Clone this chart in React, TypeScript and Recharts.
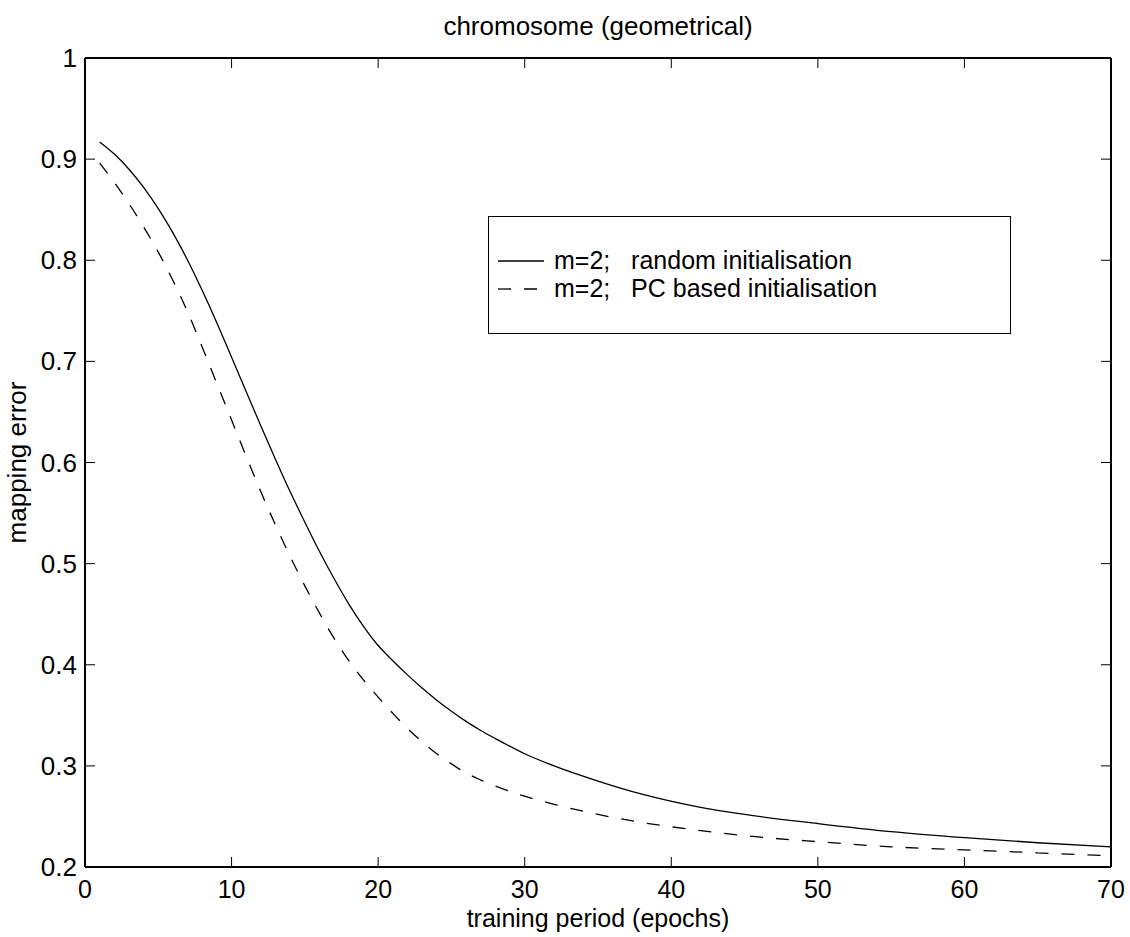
import { Legend, Line, LineChart, XAxis, YAxis } from "recharts";

// values
const epochs = [
  1, 2, 3, 4, 5, 6, 7, 8, 9, 10, 11, 12, 13, 14, 15, 16, 17, 18, 19, 20, 21,
  22, 23, 24, 25, 26, 27, 28, 30, 32, 35, 38, 42, 45, 50, 55, 60, 65, 70,
];
const randomInit = [
  0.917, 0.905, 0.89, 0.872, 0.851, 0.827, 0.8, 0.77, 0.738, 0.704, 0.67,
  0.636, 0.603, 0.571, 0.541, 0.512, 0.485, 0.46, 0.438, 0.419, 0.404, 0.39,
  0.377, 0.365, 0.354, 0.344, 0.335, 0.327, 0.312, 0.3, 0.285, 0.272, 0.259,
  0.252, 0.243, 0.235, 0.229, 0.224, 0.22,
];
const pcInit = [
  0.896, 0.877, 0.856, 0.833, 0.808, 0.78, 0.749, 0.714, 0.678, 0.642, 0.606,
  0.571, 0.538, 0.507, 0.478, 0.451, 0.426, 0.404, 0.385, 0.368, 0.352, 0.337,
  0.324, 0.312, 0.302, 0.293, 0.286, 0.28, 0.27, 0.262, 0.252, 0.244, 0.236,
  0.231, 0.225, 0.22, 0.217, 0.214, 0.211,
];
const xTicks = [0, 10, 20, 30, 40, 50, 60, 70];
const yTicks = [0.2, 0.3, 0.4, 0.5, 0.6, 0.7, 0.8, 0.9, 1];
const seriesNames = ["m=2;   random initialisation", "m=2;   PC based initialisation"];

const FONT = '"Liberation Sans", Arial, Helvetica, sans-serif';
const DASH = "13 13";
const TICK_LEN = 10;

const data = epochs.map((e, i) => ({
  epoch: e,
  random: randomInit[i],
  pc: pcInit[i],
}));

function BottomTick({ x, y, payload }: any) {
  return (
    <g>
      <line x1={x} x2={x} y1={y} y2={y - TICK_LEN} stroke="#000" strokeWidth={1} />
      <text x={x} y={y + 31} textAnchor="middle" fontSize={25} fontFamily={FONT} fill="#000">
        {payload.value}
      </text>
    </g>
  );
}

function TopTick({ x, y }: any) {
  return <line x1={x} x2={x} y1={y} y2={y + TICK_LEN} stroke="#000" strokeWidth={1} />;
}

function LeftTick({ x, y, payload }: any) {
  return (
    <g>
      <line x1={x} x2={x + TICK_LEN} y1={y} y2={y} stroke="#000" strokeWidth={1} />
      <text x={x - 8} y={y + 9} textAnchor="end" fontSize={26} fontFamily={FONT} fill="#000">
        {payload.value}
      </text>
    </g>
  );
}

function RightTick({ x, y }: any) {
  return <line x1={x} x2={x - TICK_LEN} y1={y} y2={y} stroke="#000" strokeWidth={1} />;
}

function LegendBox() {
  const row = (i: number, top: number) => (
    <div
      style={{
        position: "absolute",
        left: 8,
        top,
        height: 28,
        display: "flex",
        alignItems: "center",
      }}
    >
      <svg width={48} height={28} style={{ display: "block" }}>
        <line
          x1={1}
          x2={47}
          y1={15}
          y2={15}
          stroke="#000"
          strokeWidth={1.3}
          strokeDasharray={i === 1 ? DASH : undefined}
        />
      </svg>
      <span style={{ marginLeft: 9, whiteSpace: "pre", lineHeight: "28px" }}>
        {seriesNames[i]}
      </span>
    </div>
  );
  return (
    <div
      style={{
        position: "relative",
        width: 523,
        height: 118,
        boxSizing: "border-box",
        border: "1.5px solid #000",
        background: "#fff",
        fontFamily: FONT,
        fontSize: 25,
        color: "#000",
      }}
    >
      {row(0, 29)}
      {row(1, 57)}
    </div>
  );
}

export default function App() {
  return (
    <div style={{ position: "absolute", left: 0, top: 0, width: 1130, height: 937, background: "#fff" }}>
      <LineChart
        width={1130}
        height={937}
        data={data}
        margin={{ top: 57, right: 18, bottom: 0, left: 0 }}
      >
        <XAxis
          xAxisId="b"
          dataKey="epoch"
          type="number"
          domain={[0, 70]}
          ticks={xTicks}
          allowDataOverflow
          height={70}
          tickSize={0}
          tickMargin={0}
          tickLine={false}
          tick={<BottomTick />}
          axisLine={{ stroke: "#000", strokeWidth: 2 }}
          label={{
            content: ({ viewBox }: any) => (
              <text
                x={viewBox.x + viewBox.width / 2}
                y={927}
                textAnchor="middle"
                fontSize={25}
                fontFamily={FONT}
                fill="#000"
              >
                training period (epochs)
              </text>
            ),
          }}
        />
        <XAxis
          xAxisId="t"
          dataKey="epoch"
          orientation="top"
          type="number"
          domain={[0, 70]}
          ticks={xTicks}
          allowDataOverflow
          height={1}
          tickSize={0}
          tickMargin={0}
          tickLine={false}
          tick={<TopTick />}
          axisLine={{ stroke: "#000", strokeWidth: 2 }}
          label={{
            content: ({ viewBox }: any) => (
              <text
                x={viewBox.x + viewBox.width / 2}
                y={35}
                textAnchor="middle"
                fontSize={26}
                fontFamily={FONT}
                fill="#000"
              >
                chromosome (geometrical)
              </text>
            ),
          }}
        />
        <YAxis
          yAxisId="l"
          type="number"
          domain={[0.2, 1]}
          ticks={yTicks}
          allowDataOverflow
          width={85}
          tickSize={0}
          tickMargin={0}
          tickLine={false}
          tick={<LeftTick />}
          axisLine={{ stroke: "#000", strokeWidth: 2 }}
          label={{
            content: ({ viewBox }: any) => (
              <text
                transform={`translate(26, ${viewBox.y + viewBox.height / 2}) rotate(-90)`}
                textAnchor="middle"
                fontSize={26}
                fontFamily={FONT}
                fill="#000"
              >
                mapping error
              </text>
            ),
          }}
        />
        <YAxis
          yAxisId="r"
          orientation="right"
          type="number"
          domain={[0.2, 1]}
          ticks={yTicks}
          allowDataOverflow
          width={1}
          tickSize={0}
          tickMargin={0}
          tickLine={false}
          tick={<RightTick />}
          axisLine={{ stroke: "#000", strokeWidth: 2 }}
        />
        <Line
          xAxisId="b"
          yAxisId="l"
          type="monotone"
          dataKey="random"
          stroke="#000"
          strokeWidth={1.3}
          dot={false}
          isAnimationActive={false}
        />
        <Line
          xAxisId="b"
          yAxisId="l"
          type="monotone"
          dataKey="pc"
          stroke="#000"
          strokeWidth={1.3}
          strokeDasharray={DASH}
          dot={false}
          isAnimationActive={false}
        />
        <Legend
          layout="horizontal"
          verticalAlign="middle"
          align="center"
          content={() => <LegendBox />}
          wrapperStyle={{ left: 488, top: 216, width: 523, height: 118 }}
        />
      </LineChart>
    </div>
  );
}
